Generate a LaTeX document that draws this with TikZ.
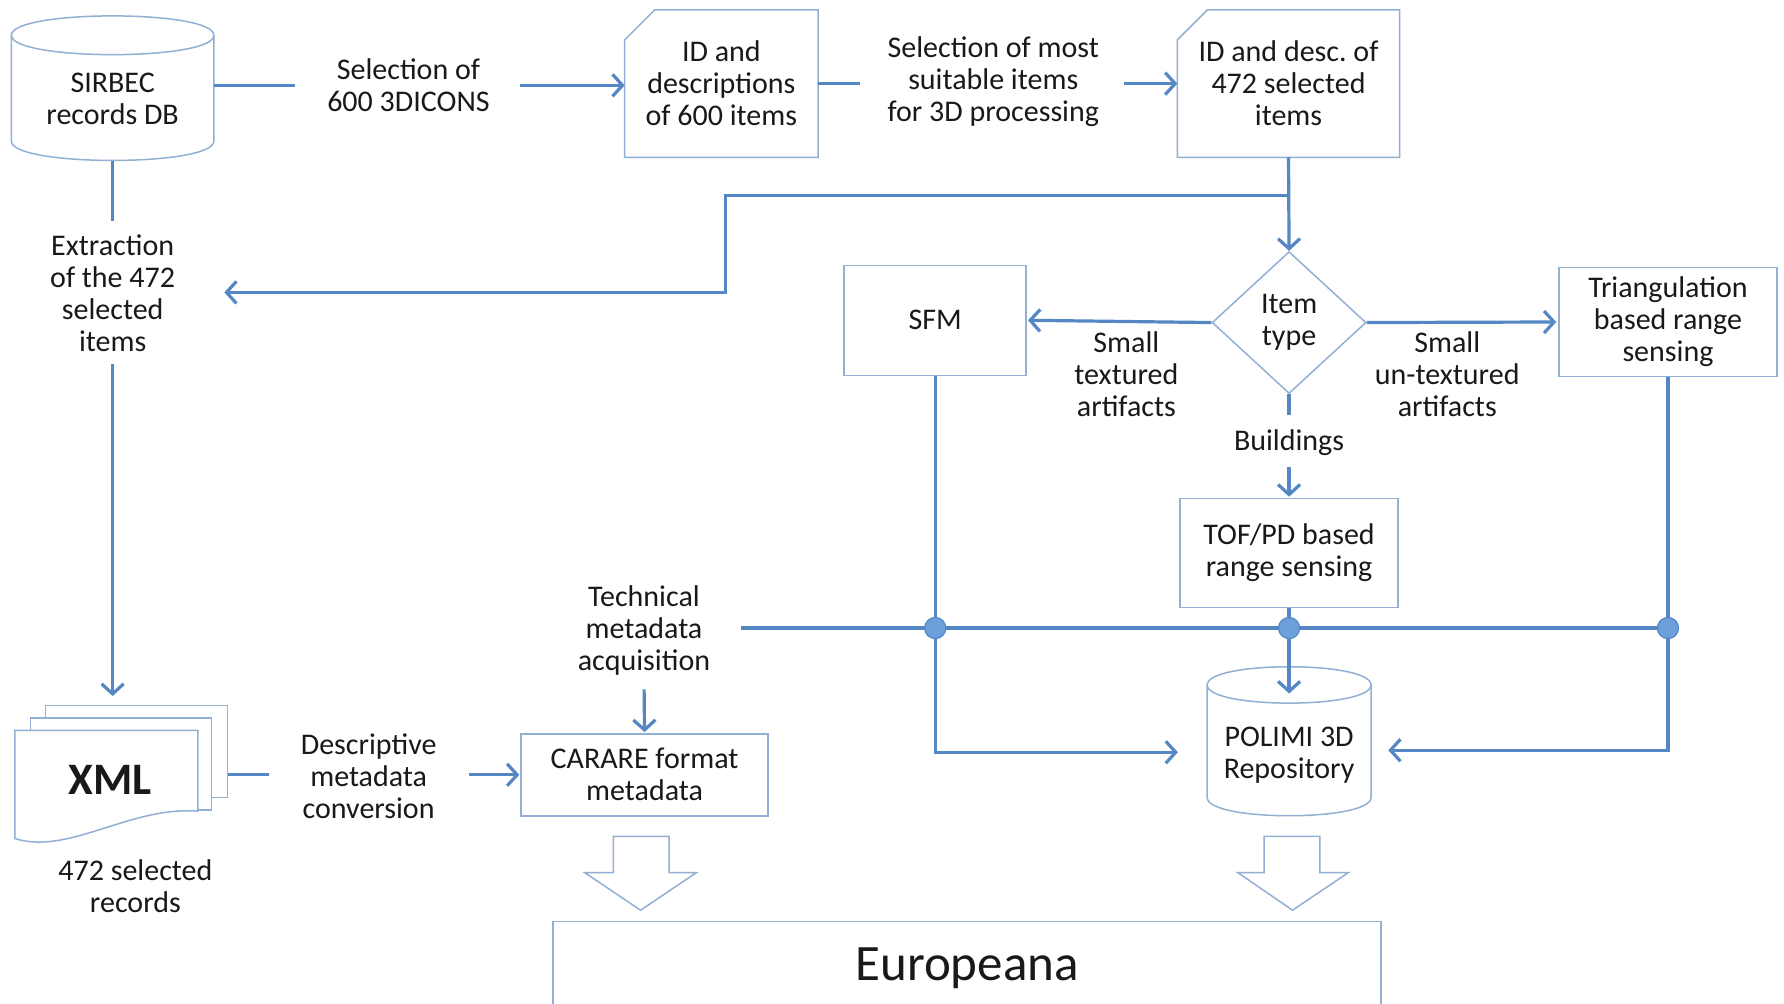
\documentclass[tikz,border=0pt]{standalone}
\usepackage{fontspec}
\setmainfont{Carlito}
\frenchspacing
\usetikzlibrary{arrows.meta,shapes.geometric,calc}
\definecolor{connc}{RGB}{84,135,196}
\definecolor{boxc}{RGB}{146,175,212}
\definecolor{dotc}{RGB}{108,160,218}
\definecolor{txtc}{RGB}{25,25,25}
\newcommand\mainsz{\fontsize{30}{32}\selectfont}
\newcommand\xmlsz{\fontsize{45}{50}\selectfont\bfseries}
\newcommand\eursz{\fontsize{51}{56}\selectfont}
\begin{document}
\begin{tikzpicture}[x=1.1378pt,y=-1.1378pt,
  conn/.style={draw=connc, line width=3.2pt},
  arr/.style={conn, -{Straight Barb[length=10pt,width=22pt]}},
  boxline/.style={draw=boxc, line width=1.5pt},
  box/.style={boxline, fill=white, align=center, inner sep=0pt, font=\mainsz, text=txtc},
  lbl/.style={align=center, inner sep=0pt, font=\mainsz, text=txtc},
  dotnode/.style={circle, fill=dotc, draw=connc, line width=1pt, minimum size=21pt, inner sep=0pt},
  blockarrow/.style={boxline, fill=white}]
\fill[white] (0,0) rectangle (1568,882);
\useasboundingbox (0,0) rectangle (1568,882);

% ---------- SIRBEC cylinder ----------
\draw[boxline, fill=white] (10,31) -- (10,124) .. controls (10,146.7) and (188,146.7) .. (188,124)
   -- (188,31) .. controls (188,8.3) and (10,8.3) .. (10,31) -- cycle;
\draw[boxline] (10,31) .. controls (10,53.7) and (188,53.7) .. (188,31);
\node[minimum width=202pt, minimum height=144.5pt, inner sep=0pt,
  label={[lbl,yshift=-11pt]center:{SIRBEC\\records DB}}] (sirbec) at (99,77.5) {};

% ---------- labels ----------
\node[lbl] (sel1) at (359,75) {Selection of\\600 3DICONS};
\node[lbl] (sel2) at (873,72) {Selection of most\\suitable items\\for 3D processing};
\node[lbl] (extr) at (99,258) {Extraction\\of the 472\\selected\\items};
\node[lbl] (tech) at (566,554) {Technical\\metadata\\acquisition};
\node[lbl] (desc) at (324,682) {Descriptive\\metadata\\conversion};
\node[lbl] (stex) at (990,329) {Small\\textured\\artifacts};
\node[lbl] (sunt) at (1272,329) {Small\\un-textured\\artifacts};
\node[lbl] (bld) at (1133,389) {Buildings};
\node[lbl] (rec) at (119,779) {472 selected\\records};

% ---------- documents ----------
\node[lbl, minimum width=193pt, minimum height=147pt] (doc1) at (634,73.5) {ID and\\descriptions\\of 600 items};
\draw[boxline] ([yshift=-30pt]doc1.north west) -- ([xshift=30pt]doc1.north west) -- (doc1.north east)
   -- (doc1.south east) -- (doc1.south west) -- cycle;
\node[lbl, minimum width=222pt, minimum height=147pt] (doc2) at (1132.5,73.5) {ID and desc. of\\472 selected\\items};
\draw[boxline] ([yshift=-30pt]doc2.north west) -- ([xshift=30pt]doc2.north west) -- (doc2.north east)
   -- (doc2.south east) -- (doc2.south west) -- cycle;

% ---------- boxes ----------
\node[box, diamond, aspect=1.08, minimum width=154pt, minimum height=142pt] (dia) at (1133,283.5) {Item\\type};
\node[box, minimum width=182pt, minimum height=110pt] (sfm) at (822,281.5) {SFM};
\node[box, minimum width=218pt, minimum height=109pt] (tri) at (1466,283) {Triangulation\\based range\\sensing};
\node[box, minimum width=218pt, minimum height=109pt] (tof) at (1133,486) {TOF/PD based\\range sensing};
\node[box, minimum width=247pt, minimum height=82pt] (carare) at (566.5,681) {CARARE format\\metadata};
\node[box, minimum width=828pt, minimum height=93pt, font=\eursz] (eur) at (850,851) {Europeana};

% ---------- POLIMI cylinder ----------
\draw[boxline, fill=white] (1061,602) -- (1061,701) .. controls (1061,722.3) and (1205,722.3) .. (1205,701)
   -- (1205,602) .. controls (1205,580.7) and (1061,580.7) .. (1061,602) -- cycle;
\draw[boxline] (1061,602) .. controls (1061,623.3) and (1205,623.3) .. (1205,602);
\node[minimum width=164pt, minimum height=149pt, inner sep=0pt,
  label={[lbl,yshift=-14pt]center:{POLIMI 3D\\Repository}}] (polimi) at (1133,651.5) {};

% ---------- XML stack ----------
\draw[boxline, fill=white] (40,620) rectangle (200,701);
\draw[boxline, fill=white] (27,631) rectangle (186,712);
\draw[boxline, fill=white] (13,642) -- (174,642) -- (174,713)
   .. controls (115,708) and (60,752) .. (13,737) -- cycle;
\node[minimum width=213pt, minimum height=138pt, inner sep=0pt,
  label={[lbl,font=\xmlsz,xshift=-11pt,yshift=-6pt]center:{XML}}] (xml) at (106.5,680.5) {};

% ---------- block arrows ----------
\draw[blockarrow] (539,735) -- (588,735) -- (588,767) -- (612,767) -- (563,800) -- (514,767) -- (539,767) -- cycle;
\draw[blockarrow] (1111,735) -- (1160,735) -- (1160,767) -- (1185,767) -- (1136,800) -- (1088,767) -- (1111,767) -- cycle;

% ---------- connectors ----------
\draw[conn, shorten >=32pt] (sirbec.east |- sel1) -- (sel1.west);
\draw[arr, shorten <=30pt] (sel1.east) -- (doc1.west |- sel1);
\draw[conn, shorten >=27pt] (doc1.east) -- (sel2.west |- doc1.east);
\draw[arr, shorten <=25pt] (sel2.east |- doc2.west) -- (doc2.west);

\coordinate (br) at (doc2.south |- 0,172);
\coordinate (bend1) at (638,172);
\coordinate (bend2) at (638,257);
\draw[arr] (doc2.south) -- (dia.north);
\draw[arr, shorten >=49pt] (br) -- (bend1) -- (bend2) -- (extr.east |- bend2);

\draw[conn, shorten >=14pt] (sirbec.south) -- (extr.north);
\draw[arr, shorten <=12pt, shorten >=9pt] (extr.south) -- (extr.south |- xml.north);

\draw[arr, shorten >=1pt] (dia.west) -- (sfm.east);
\draw[arr, shorten >=2pt] (dia.east) -- (tri.west);
\draw[conn, shorten >=14pt] (dia.south) -- (bld.north);
\draw[arr, shorten <=11pt, shorten >=1pt] (bld.south) -- (tof.north);

\node[dotnode] (d1) at (sfm.south |- 0,552) {};
\node[dotnode] (d2) at (tof.south |- 0,552) {};
\node[dotnode] (d3) at (tri.south |- 0,552) {};

\draw[conn, shorten <=31pt] (tech.east |- d1) -- (d1.center) -- (d2.center) -- (d3.center);
\draw[arr, shorten >=29pt] (sfm.south) |- ([yshift=-11pt]polimi.west);
\draw[arr, shorten >=17pt] (tri.south) |- ([yshift=-9pt]polimi.east);
\draw[conn] (tof.south) -- (d2.center);
\draw[arr, shorten >=-27pt] (d2.center) -- (polimi.north);
\draw[arr, shorten <=14pt, shorten >=1pt] (tech.south) -- (carare.north);

\draw[conn, shorten >=32pt] (xml.east) -- (desc.west |- xml.east);
\draw[arr, shorten <=32pt, shorten >=1pt] (desc.east |- carare.west) -- (carare.west);

% dots on top
\node[dotnode] at (d1) {};
\node[dotnode] at (d2) {};
\node[dotnode] at (d3) {};
\end{tikzpicture}
\end{document}
